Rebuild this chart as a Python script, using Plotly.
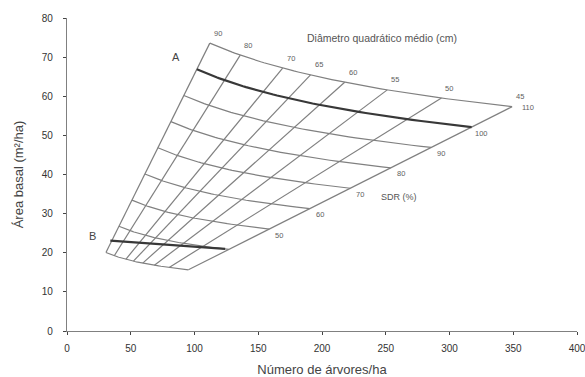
import numpy as np
import plotly.graph_objects as go

# ---- data ----
diameter_classes = [90, 80, 70, 65, 60, 55, 50, 45]          # quadratic mean diameter lines (cm)
sdr_classes = [110, 100, 90, 80, 70, 60, 50, 40, 30]          # relative density lines (%)
sdr_labelled = [110, 100, 90, 80, 70, 60, 50]
line_A_sdr = 100                                             # upper management limit
line_B_trees = [34, 124]                                     # lower management limit (read)
line_B_basal = [23.1, 21.0]

# diagram model parameters (fitted to the picture)
ba_coef = 8.11e-5      # G = ba_coef * N * D^2
sdr_ref_d = 91.0       # SDR = N * (D / sdr_ref_d) ** sdr_exp
sdr_exp = 1.64

x_ticks = [0, 50, 100, 150, 200, 250, 300, 350, 400]
y_ticks = [0, 10, 20, 30, 40, 50, 60, 70, 80]

def trees(sdr, d):
    return sdr * (sdr_ref_d / d) ** sdr_exp

def basal(n, d):
    return ba_coef * n * d ** 2

GRID = "#808080"
DARK = "#383838"
LAB = "#606060"
FONT = "Liberation Sans"

fig = go.Figure()
dmax, dmin = max(diameter_classes), min(diameter_classes)
smax, smin = max(sdr_classes), min(sdr_classes)

# diameter lines
for d in diameter_classes:
    n = np.array([trees(smin, d), trees(smax, d)])
    fig.add_trace(go.Scatter(x=n, y=basal(n, d), mode="lines",
                             line=dict(color=GRID, width=1.2), hoverinfo="skip", showlegend=False))

# SDR lines
dd = np.linspace(dmax, dmin, 60)
for s in sdr_classes:
    n = trees(s, dd)
    thick = (s == line_A_sdr)
    fig.add_trace(go.Scatter(x=n, y=basal(n, dd), mode="lines",
                             line=dict(color=DARK if thick else GRID, width=2.2 if thick else 1.2),
                             hoverinfo="skip", showlegend=False))

# line B
fig.add_trace(go.Scatter(x=line_B_trees, y=line_B_basal, mode="lines",
                         line=dict(color=DARK, width=2.2), hoverinfo="skip", showlegend=False))

ann = []
# diameter labels along the top line
for d in diameter_classes:
    n = trees(smax, d)
    ann.append(dict(x=n, y=basal(n, d), text=str(d), showarrow=False,
                    xshift=8, yshift=10, font=dict(size=7.5, color=LAB, family=FONT)))
# SDR labels along the smallest-diameter line
for s in sdr_labelled:
    n = trees(s, dmin)
    xs, ys = (16, -1) if s == smax else (10, -6)
    ann.append(dict(x=n, y=basal(n, dmin), text=str(s), showarrow=False,
                    xshift=xs, yshift=ys, font=dict(size=7.5, color=LAB, family=FONT)))
# A and B
nA = trees(line_A_sdr, dmax)
ann.append(dict(x=nA, y=basal(nA, dmax), text="A", showarrow=False, xshift=-21, yshift=12,
                font=dict(size=11, color="#444", family=FONT)))
ann.append(dict(x=line_B_trees[0], y=line_B_basal[0], text="B", showarrow=False, xshift=-18, yshift=5,
                font=dict(size=11, color="#444", family=FONT)))
ann.append(dict(x=247, y=75, text="Diâmetro quadrático médio (cm)", showarrow=False,
                font=dict(size=10.5, color="#555", family=FONT)))
ann.append(dict(x=260, y=34.3, text="SDR (%)", showarrow=False,
                font=dict(size=9, color="#555", family=FONT)))

fig.update_layout(
    width=585, height=377,
    margin=dict(l=67, r=8, t=18, b=46),
    paper_bgcolor="white", plot_bgcolor="white",
    annotations=ann,
    font=dict(family=FONT, color="#333"),
    xaxis=dict(range=[0, 400], tickvals=x_ticks, ticks="outside", ticklen=3,
               showline=True, linecolor="#808080", linewidth=1.2, showgrid=False, zeroline=False,
               tickfont=dict(size=10, color="#333"), ticklabelstandoff=5,
               ticklabeloverflow="allow", automargin=False,
               title=dict(text="Número de árvores/ha", font=dict(size=13, color="#444"))),
    yaxis=dict(range=[0, 80], tickvals=y_ticks, ticks="outside", ticklen=3,
               showline=True, linecolor="#808080", linewidth=1.2, showgrid=False, zeroline=False,
               tickfont=dict(size=10, color="#333"), ticklabelstandoff=8,
               ticklabeloverflow="allow", automargin=False,
               title=dict(text="Área basal (m²/ha)", font=dict(size=13, color="#444"))),
)

fig.write_html("out.html")
